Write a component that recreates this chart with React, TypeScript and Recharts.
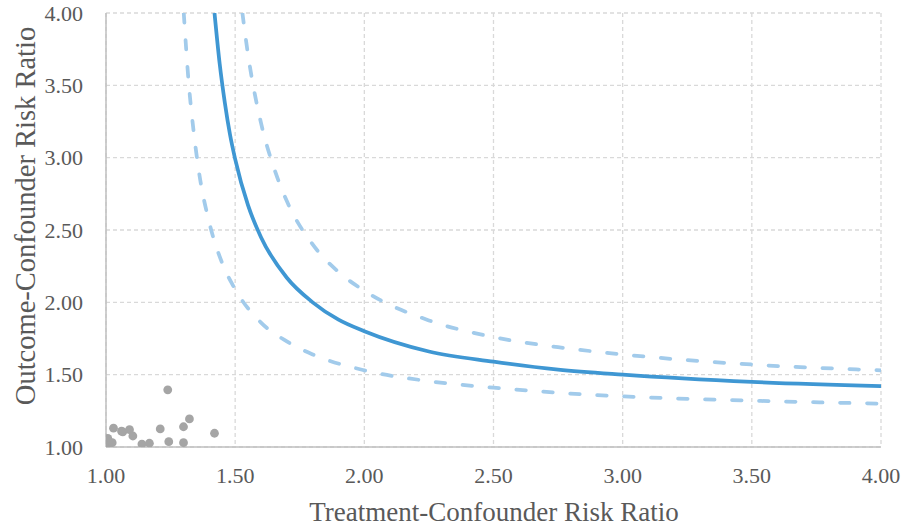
import { ComposedChart, Line, Scatter, XAxis, YAxis, CartesianGrid, Label } from "recharts";

// axis ticks (both axes run 1.00 to 4.00)
const TICKS = [1, 1.5, 2, 2.5, 3, 3.5, 4];

// point estimate curve
const estimate = [
  { x: 1.42, y: 4.0 },
  { x: 1.44, y: 3.65 },
  { x: 1.46, y: 3.38 },
  { x: 1.48, y: 3.16 },
  { x: 1.5, y: 2.99 },
  { x: 1.55, y: 2.67 },
  { x: 1.6, y: 2.45 },
  { x: 1.7, y: 2.17 },
  { x: 1.8, y: 2.0 },
  { x: 1.9, y: 1.88 },
  { x: 2.0, y: 1.8 },
  { x: 2.25, y: 1.66 },
  { x: 2.5, y: 1.59 },
  { x: 2.75, y: 1.535 },
  { x: 3.0, y: 1.5 },
  { x: 3.5, y: 1.45 },
  { x: 4.0, y: 1.42 },
];

// upper confidence limit curve
const upperLimit = [
  { x: 1.528, y: 4.0 },
  { x: 1.55, y: 3.71 },
  { x: 1.6, y: 3.24 },
  { x: 1.65, y: 2.93 },
  { x: 1.7, y: 2.7 },
  { x: 1.8, y: 2.4 },
  { x: 1.9, y: 2.21 },
  { x: 2.0, y: 2.08 },
  { x: 2.25, y: 1.875 },
  { x: 2.5, y: 1.76 },
  { x: 2.75, y: 1.69 },
  { x: 3.0, y: 1.64 },
  { x: 3.5, y: 1.57 },
  { x: 4.0, y: 1.53 },
];

// lower confidence limit curve
const lowerLimit = [
  { x: 1.301, y: 4.0 },
  { x: 1.32, y: 3.52 },
  { x: 1.34, y: 3.17 },
  { x: 1.36, y: 2.9 },
  { x: 1.4, y: 2.55 },
  { x: 1.45, y: 2.27 },
  { x: 1.5, y: 2.09 },
  { x: 1.6, y: 1.86 },
  { x: 1.7, y: 1.73 },
  { x: 1.8, y: 1.64 },
  { x: 2.0, y: 1.53 },
  { x: 2.25, y: 1.455 },
  { x: 2.5, y: 1.41 },
  { x: 2.75, y: 1.375 },
  { x: 3.0, y: 1.35 },
  { x: 3.5, y: 1.32 },
  { x: 4.0, y: 1.3 },
];

// observed covariates (grey dots)
const observed = [
  { x: 1.007, y: 1.06 },
  { x: 1.003, y: 1.007 },
  { x: 1.024, y: 1.03 },
  { x: 1.029, y: 1.13 },
  { x: 1.06, y: 1.11 },
  { x: 1.065, y: 1.105 },
  { x: 1.091, y: 1.12 },
  { x: 1.104, y: 1.076 },
  { x: 1.139, y: 1.02 },
  { x: 1.168, y: 1.026 },
  { x: 1.21, y: 1.125 },
  { x: 1.239, y: 1.395 },
  { x: 1.243, y: 1.037 },
  { x: 1.3, y: 1.03 },
  { x: 1.3, y: 1.14 },
  { x: 1.323, y: 1.194 },
  { x: 1.42, y: 1.095 },
];

const TEXT = "#595959";
const FONT = '"Liberation Serif", "Times New Roman", serif';
const BLUE = "#3f97d3";
const LIGHT = "#a2cbeb";

const XTick = (p: any) => (
  <text x={p.x} y={p.y + 16} textAnchor="middle" fill={TEXT} fontSize={22} fontFamily={FONT}>
    {Number(p.payload.value).toFixed(2)}
  </text>
);

const YTick = (p: any) => (
  <text x={p.x} y={p.y + 7.5} textAnchor="end" fill={TEXT} fontSize={22} fontFamily={FONT}>
    {Number(p.payload.value).toFixed(2)}
  </text>
);

export default function App() {
  return (
    <div style={{ position: "absolute", left: 0, top: 0, background: "#fff" }}>
      <ComposedChart width={902} height={529} margin={{ top: 13, right: 21, bottom: 0, left: 0 }}>
        <CartesianGrid stroke="#d9d9d9" strokeDasharray="4 3" strokeWidth={1.3} />
        <XAxis
          type="number"
          dataKey="x"
          domain={[1, 4]}
          ticks={TICKS}
          allowDataOverflow
          height={82}
          axisLine={{ stroke: "#bfbfbf", strokeWidth: 1.5 }}
          tickLine={false}
          tickSize={0}
          tickMargin={20}
          tick={XTick}
        >
          <Label
            content={() => (
              <text x={494} y={521} textAnchor="middle" fill={TEXT} fontSize={27} fontFamily={FONT}>
                Treatment-Confounder Risk Ratio
              </text>
            )}
          />
        </XAxis>
        <YAxis
          type="number"
          dataKey="y"
          domain={[1, 4]}
          ticks={TICKS}
          allowDataOverflow
          width={106}
          axisLine={{ stroke: "#bfbfbf", strokeWidth: 1.5 }}
          tickLine={false}
          tickSize={0}
          tickMargin={23}
          tick={YTick}
        >
          <Label
            content={() => (
              <text
                x={35}
                y={216}
                transform="rotate(-90 35 216)"
                textAnchor="middle"
                fill={TEXT}
                fontSize={28.5}
                fontFamily={FONT}
              >
                Outcome-Confounder Risk Ratio
              </text>
            )}
          />
        </YAxis>
        <Scatter
          data={observed}
          dataKey="y"
          isAnimationActive={false}
          shape={(p: any) => <circle cx={p.cx} cy={p.cy} r={4.4} fill="#a5a5a5" />}
        />
        <Line
          data={lowerLimit}
          dataKey="y"
          type="monotoneX"
          stroke={LIGHT}
          strokeWidth={3.75}
          strokeDasharray="9.5 17.5"
          strokeLinecap="round"
          dot={false}
          activeDot={false}
          isAnimationActive={false}
        />
        <Line
          data={upperLimit}
          dataKey="y"
          type="monotoneX"
          stroke={LIGHT}
          strokeWidth={3.75}
          strokeDasharray="9.5 17.5"
          strokeLinecap="round"
          dot={false}
          activeDot={false}
          isAnimationActive={false}
        />
        <Line
          data={estimate}
          dataKey="y"
          type="monotoneX"
          stroke={BLUE}
          strokeWidth={3.75}
          dot={false}
          activeDot={false}
          isAnimationActive={false}
        />
      </ComposedChart>
    </div>
  );
}
